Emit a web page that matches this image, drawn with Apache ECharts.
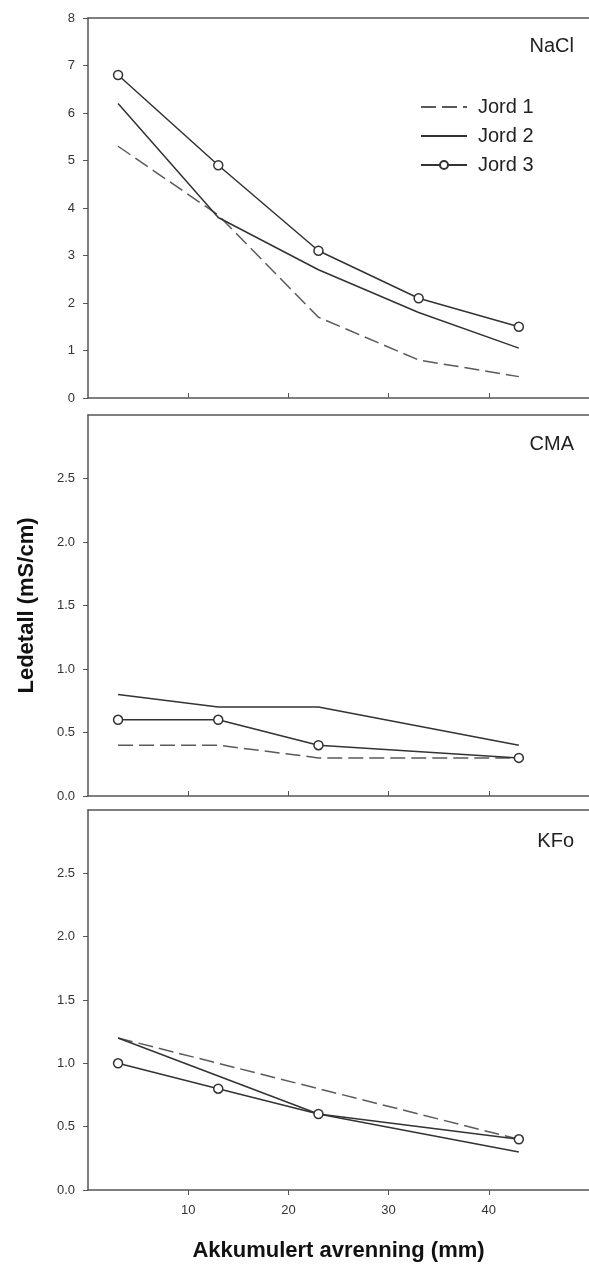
<!DOCTYPE html>
<html>
<head>
<meta charset="utf-8">
<script src="https://cdn.jsdelivr.net/npm/echarts@6/dist/echarts.min.js"></script>
<style>
html,body{margin:0;padding:0;background:#fff;}
#c{width:589px;height:1266px;}
</style>
</head>
<body>
<div id="c"></div>
<script>
const xValues = [3, 13, 23, 33, 43];
const panelNames = ['NaCl', 'CMA', 'KFo'];
const seriesNames = ['Jord 1', 'Jord 2', 'Jord 3'];

const naclJord1 = [5.3, 3.85, 1.7, 0.8, 0.45];
const naclJord2 = [6.2, 3.8, 2.7, 1.8, 1.05];
const naclJord3 = [6.8, 4.9, 3.1, 2.1, 1.5];

const cmaJord1 = [0.4, 0.4, 0.3, 0.3, 0.3];
const cmaJord2 = [0.8, 0.7, 0.7, null, 0.4];
const cmaJord3 = [0.6, 0.6, 0.4, null, 0.3];

const kfoJord1 = [1.2, 1.0, 0.8, 0.6, 0.4];
const kfoJord2 = [1.2, 0.9, 0.6, null, 0.3];
const kfoJord3 = [1.0, 0.8, 0.6, null, 0.4];

const yTicksTop = [0, 1, 2, 3, 4, 5, 6, 7, 8];
const yTicksSmall = [0, 0.5, 1.0, 1.5, 2.0, 2.5];
const xTicks = [10, 20, 30, 40];

const panelData = [
  [naclJord1, naclJord2, naclJord3],
  [cmaJord1, cmaJord2, cmaJord3],
  [kfoJord1, kfoJord2, kfoJord3]
];

const FONT = '"Liberation Sans", Arial, sans-serif';
const frameColor = '#555';
const lineColor = '#333';

const grids = [
  {left: 88, width: 504, top: 18, height: 380},
  {left: 88, width: 504, top: 415, height: 381},
  {left: 88, width: 504, top: 810, height: 380}
].map(g => Object.assign(g, {show: false}));

const xAxes = [];
[0, 1, 2].forEach(i => {
  xAxes.push({
    type: 'value', gridIndex: i, min: 0, max: 50, interval: 10, position: 'bottom',
    axisLine: {show: true, onZero: false, lineStyle: {color: frameColor, width: 1.5}},
    axisTick: {show: true, inside: i < 2, length: 5, customValues: xTicks, lineStyle: {color: frameColor, width: 1}},
    axisLabel: {show: i === 2, margin: 14, customValues: xTicks, color: '#333', fontSize: 13, fontFamily: FONT},
    splitLine: {show: false},
    name: i === 2 ? 'Akkumulert avrenning (mm)' : '',
    nameLocation: 'middle', nameGap: 50,
    nameTextStyle: {fontSize: 22, fontWeight: 'bold', color: '#111', fontFamily: FONT}
  });
});
[0, 1, 2].forEach(i => {
  xAxes.push({
    type: 'value', gridIndex: i, min: 0, max: 50, position: 'top',
    axisLine: {show: true, onZero: false, lineStyle: {color: frameColor, width: 1.5}},
    axisTick: {show: false}, axisLabel: {show: false}, splitLine: {show: false}
  });
});

const yAxes = [0, 1, 2].map(i => ({
  type: 'value', gridIndex: i, min: 0, max: i === 0 ? 8 : 3, interval: i === 0 ? 1 : 0.5,
  axisLine: {show: true, onZero: false, lineStyle: {color: frameColor, width: 1.5}},
  axisTick: {show: true, inside: false, length: 5, customValues: i === 0 ? yTicksTop : yTicksSmall, lineStyle: {color: frameColor, width: 1}},
  axisLabel: {
    margin: 13, color: '#333', fontSize: 13, fontFamily: FONT,
    customValues: i === 0 ? yTicksTop : yTicksSmall,
    formatter: v => i === 0 ? String(v) : v.toFixed(1)
  },
  splitLine: {show: false},
  name: i === 1 ? 'Ledetall (mS/cm)' : '',
  nameLocation: 'middle', nameGap: 50, nameRotate: 90,
  nameTextStyle: {fontSize: 22, fontWeight: 'bold', color: '#111', fontFamily: FONT}
}));

const styles = [
  {lineStyle: {color: '#5a5a5a', width: 1.5, type: [15, 6]}, symbol: 'none'},
  {lineStyle: {color: lineColor, width: 1.5, type: 'solid'}, symbol: 'none'},
  {lineStyle: {color: lineColor, width: 1.5, type: 'solid'}, symbol: 'circle', symbolSize: 9,
   itemStyle: {color: '#fff', borderColor: lineColor, borderWidth: 1.5}}
];

const series = [];
panelData.forEach((arrs, p) => {
  arrs.forEach((vals, s) => {
    const st = styles[s];
    series.push({
      type: 'line', name: seriesNames[s], xAxisIndex: p, yAxisIndex: p,
      data: xValues.map((x, k) => vals[k] === null ? null : [x, vals[k]]).filter(d => d !== null),
      symbol: st.symbol, symbolSize: st.symbolSize || 0, showSymbol: st.symbol !== 'none',
      lineStyle: st.lineStyle,
      itemStyle: st.itemStyle || {color: st.lineStyle.color},
      emphasis: {disabled: true}, animation: false, z: 2 + s
    });
  });
});

const titleTops = [36, 434, 831];
const option = {
  backgroundColor: '#fff',
  animation: false,
  title: panelNames.map((n, i) => ({
    text: n, right: 15, top: titleTops[i], padding: 0,
    textStyle: {fontSize: 20, fontWeight: 'normal', color: '#222', fontFamily: FONT}
  })),
  legend: {
    data: [
      {name: seriesNames[0], itemStyle: {opacity: 0}},
      {name: seriesNames[1], itemStyle: {opacity: 0}},
      {name: seriesNames[2]}
    ],
    orient: 'vertical', left: 420, top: 97,
    itemWidth: 46, itemHeight: 10, itemGap: 9, padding: 0,
    textStyle: {fontSize: 20, color: '#222', fontFamily: FONT, padding: [0, 0, 0, 6]},
    selectedMode: false
  },
  grid: grids, xAxis: xAxes, yAxis: yAxes, series: series
};

const chart = echarts.init(document.getElementById('c'), null, {renderer: 'canvas'});
chart.setOption(option);
</script>
</body>
</html>
